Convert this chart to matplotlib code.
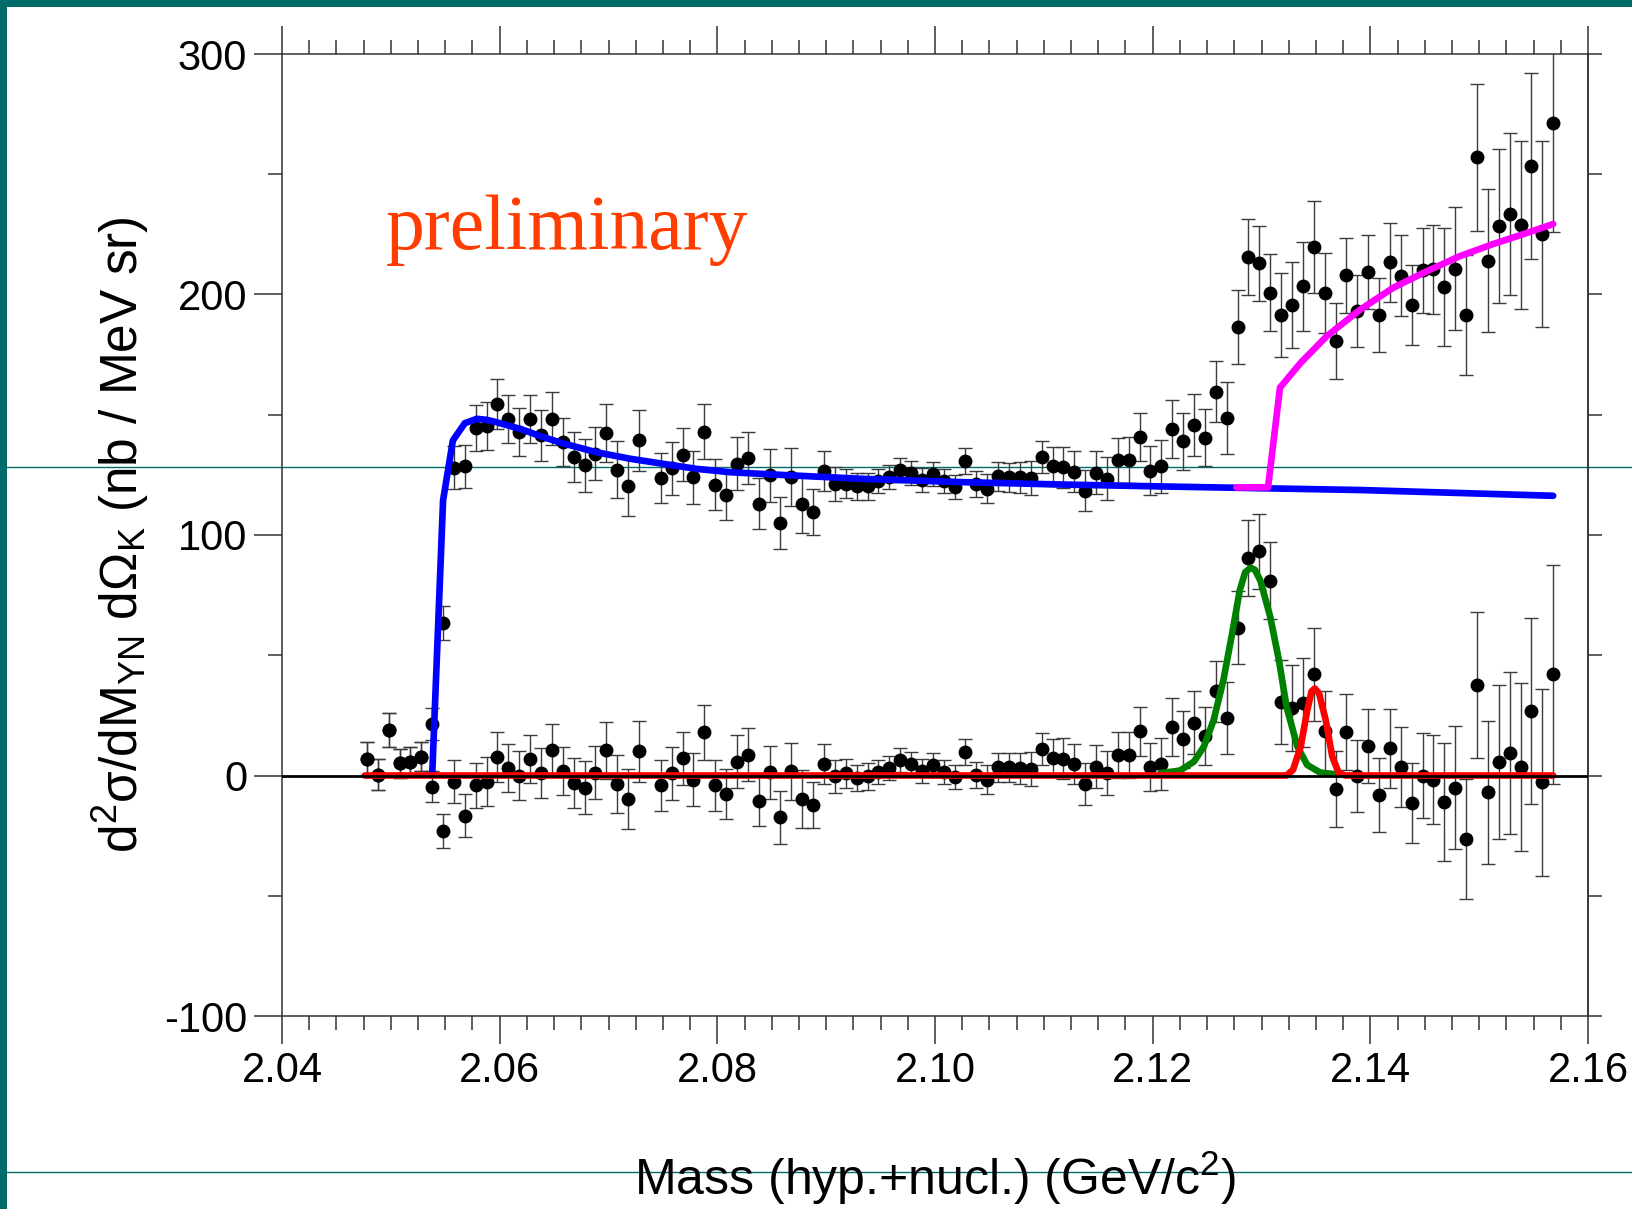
import numpy as np
import matplotlib
matplotlib.use("Agg")
import matplotlib.pyplot as plt
from matplotlib.lines import Line2D
from matplotlib.patches import Rectangle
from matplotlib.ticker import MultipleLocator, FormatStrFormatter

TEAL = "#006b68"
BG_BLUE = "#0000ff"
THR_MAGENTA = "#ff00ff"
PEAK_GREEN = "#008000"
PEAK_RED = "#ff0000"
PRELIM = "#ff3d00"

plt.rcParams['font.family'] = ['Liberation Sans', 'DejaVu Sans']
plt.rcParams['mathtext.fontset'] = 'custom'
plt.rcParams['mathtext.rm'] = 'Liberation Sans'
plt.rcParams['mathtext.it'] = 'Liberation Sans:italic'
plt.rcParams['mathtext.bf'] = 'Liberation Sans:bold'
plt.rcParams['axes.unicode_minus'] = False

# 1 MeV mass bins (bin 26 is empty)
BIN_START = 2.0478
BIN_WIDTH = 0.001
N_BINS = 110

raw_yield = [6.8, 0.3, 19, 5, 5.8, 7.9,
             21.4, 63.3, 128, 128.5, 144.4, 145.5, 154.5, 148.3, 143, 148.3,
             141.4, 148.4, 138.6, 132.4, 129, 133.7, 142.3, 127.2, 120.2, 139.3,
             np.nan, 123.7, 127.8, 133.3, 124, 143, 120.9, 116.7, 129.6, 132,
             113, 124.8, 105, 124, 112.7, 109.5, 126.8, 121.3, 121.3, 120.2,
             120.2, 122.4, 124, 127.2, 125.9, 123, 125.4, 122.4, 120, 130.7,
             121.3, 119.2, 124.5, 124, 124, 123.7, 132.4, 128.5, 128.2, 126.4,
             118.5, 125.9, 123.4, 131, 131.3, 140.7, 126.8, 128.5, 144, 138.9,
             145.8, 140.5, 159.6, 148.8, 186.4, 215.6, 212.9, 200.7, 191.6, 195.6,
             203.5, 219.8, 200.7, 180.6, 208, 193.1, 209.3, 191.4, 213.4, 207.9,
             195.6, 210, 210.4, 203, 210.8, 191.4, 257, 214.1, 228.6, 233.5,
             228.9, 253.5, 225.3, 271.4]

subtracted = [6.8, 0.3, 19, 5, 5.8, 7.9,
              -4.6, -23, -2.5, -16.7, -4.1, -2.5, 7.6, 3.2, 0, 6.9,
              1, 10.4, 1.7, -3.2, -5, 1.2, 10.4, -3.6, -9.8, 10,
              np.nan, -4.1, 1, 7.2, -1.8, 18, -4.1, -7.6, 5.8, 8.6,
              -10.4, 1.4, -17.4, 1.7, -9.7, -12.4, 4.7, -0.4, 1, -1.1,
              -0.4, 1.4, 3, 6.5, 4.8, 2, 4.4, 1.4, -0.7, 9.7,
              0.3, -1.8, 3.5, 3.5, 3, 2.6, 11, 7.2, 6.9, 4.8,
              -3.5, 3.7, 1, 8.6, 8.6, 18.3, 3.7, 4.8, 20.3, 15,
              22, 16.5, 35.1, 24, 61.5, 90.5, 93.2, 80.9, 30.7, 28.2,
              30.3, 42, 18.5, -5.7, 18, -0.1, 12.4, -8, 11.3, 3.5,
              -11.5, 0, -1.8, -11.1, -5, -26.4, 37.6, -7, 5.8, 9.3,
              3.5, 26.8, -2.9, 42]

stat_err = [7, 6.5, 7, 6, 6, 6,
            6.5, 7, 9, 9, 9.5, 10, 10.4, 10, 10, 10,
            10.5, 11, 10, 10.5, 11, 11, 12, 12, 12.3, 12.5,
            np.nan, 10.5, 11, 11, 11, 11.5, 10.5, 10.5, 11, 11,
            10.5, 11, 11, 12, 12, 9.5, 8.3, 7, 6, 5.5,
            5.5, 5, 5, 5, 5, 5, 5, 5, 5, 5.3,
            5.5, 6, 6, 6, 6.5, 7, 6.6, 8, 8.5, 8.5,
            8.6, 9, 9, 9.5, 9.5, 10, 10, 11, 12, 12,
            13, 12, 12.7, 15, 15.3, 15.8, 15.6, 16, 17.4, 17.9,
            18.5, 19.2, 16.6, 15.7, 15.7, 15, 15.4, 15.3, 16.5, 16.7,
            16.6, 17.8, 18.5, 24.5, 25.6, 25, 30.5, 29.7, 32, 33.7,
            34.9, 38.7, 38.7, 45.6]

# background fit (blue)
bg_mass = [2.0538, 2.0548, 2.0557, 2.0568, 2.0579, 2.0588, 2.0597, 2.0619, 2.0640,
           2.0659, 2.0689, 2.0720, 2.0750, 2.0781, 2.0812, 2.0858, 2.0931, 2.1023,
           2.1115, 2.1207, 2.1391, 2.1568]
bg_fit = [0, 114.4, 139.3, 146.5, 148.3, 147.9, 146.9, 144.1, 140.7,
          138.0, 134.4, 131.7, 129.6, 127.5, 126.1, 125.0, 123.4, 122.0,
          121.0, 120.2, 118.7, 116.3]

# background + threshold (magenta)
thr_mass = [2.1277, 2.1306, 2.1317, 2.1336, 2.1360, 2.1391, 2.1421, 2.1452,
            2.1482, 2.1513, 2.1544, 2.1568]
thr_fit = [119.8, 119.8, 161.3, 171.6, 182.7, 193.8, 202.8, 209.7,
           215.9, 221.0, 225.6, 229.3]

# first peak (green)
peak1_mass = [2.1207, 2.1225, 2.1238, 2.1247, 2.1256, 2.1265, 2.1273, 2.1280, 2.1285,
              2.1290, 2.1294, 2.1299, 2.1308, 2.1316, 2.1323, 2.1333, 2.1342, 2.1354,
              2.1372]
peak1_fit = [1, 2, 5.8, 12, 23, 39.7, 59, 77, 84.5,
             86.4, 85.5, 81, 66, 48, 28.6, 12, 4.4, 1.2,
             0.3]

# second peak (red)
peak2_mass = [2.0476, 2.1323, 2.1329, 2.1336, 2.1342, 2.1346, 2.1349, 2.1353,
              2.1359, 2.1365, 2.1371, 2.1377, 2.1568]
peak2_fit = [0, 0, 2.4, 12, 27, 35, 36.2, 34,
             23, 7.9, 1, 0, 0]


def draw_slide_frame(fig):
    # teal bars and rules of the slide background
    fig.add_artist(Rectangle((0, 0), 7 / 1633, 1, transform=fig.transFigure,
                             color=TEAL, lw=0, zorder=-5))
    fig.add_artist(Rectangle((0, 1 - 7 / 1209), 1, 7 / 1209, transform=fig.transFigure,
                             color=TEAL, lw=0, zorder=-5))
    for ypix in (467, 1172):
        yf = 1 - ypix / 1209
        fig.add_artist(Line2D([0, 1], [yf, yf], transform=fig.transFigure,
                              color=TEAL, lw=1.0, zorder=-5))


def draw_spectrum(path):
    fig = plt.figure(figsize=(16.33, 12.09), dpi=100)
    draw_slide_frame(fig)
    ax = fig.add_axes([282 / 1633, 1 - 1016 / 1209, 1306 / 1633, 962 / 1209])
    ax.set_facecolor('none')

    mass = BIN_START + BIN_WIDTH * np.arange(N_BINS)
    for values in (raw_yield, subtracted):
        ax.errorbar(mass, values, yerr=stat_err, fmt='o', color='black', ms=9,
                    ecolor='#3c3c3c', elinewidth=1.0, capsize=5, capthick=1.0, zorder=2)

    line_kw = dict(lw=4.8, solid_capstyle='round', solid_joinstyle='round')
    ax.plot(bg_mass, bg_fit, color=BG_BLUE, zorder=3, **line_kw)
    ax.plot(thr_mass, thr_fit, color=THR_MAGENTA, zorder=4, **line_kw)
    ax.plot(peak1_mass, peak1_fit, color=PEAK_GREEN, zorder=4, **line_kw)
    ax.plot(peak2_mass, peak2_fit, color=PEAK_RED, zorder=5, **line_kw)
    ax.axhline(0, color='black', lw=2.0, zorder=6)

    ax.set_xlim(2.04, 2.16)
    ax.set_ylim(-100, 300)
    ax.xaxis.set_major_locator(MultipleLocator(0.02))
    ax.xaxis.set_minor_locator(MultipleLocator(0.0025))
    ax.xaxis.set_major_formatter(FormatStrFormatter('%.2f'))
    ax.yaxis.set_major_locator(MultipleLocator(100))
    ax.yaxis.set_minor_locator(MultipleLocator(50))
    ax.tick_params(which='major', direction='out', length=20, width=1.1, color='#333333',
                   top=True, right=False, labelsize=30, pad=5)
    ax.tick_params(which='minor', direction='out', length=10, width=1.1, color='#333333',
                   top=True, right=False)
    for side in ax.spines.values():
        side.set_color('#333333')
        side.set_linewidth(1.1)

    right = ax.secondary_yaxis('right')
    right.set_yticks(np.arange(-100, 301, 50))
    right.tick_params(direction='out', length=10, width=1.1, color='#333333', labelright=False)
    right.spines['right'].set_color('#333333')
    right.spines['right'].set_linewidth(1.1)

    ax.set_ylabel(r'$\mathregular{d^{2}\sigma/dM_{YN}\ d\Omega_{K}}$ (nb / MeV sr)', fontsize=37)
    ax.yaxis.set_label_coords(-0.1, 0.5)
    ax.set_xlabel(r'Mass (hyp.+nucl.) (GeV/c$\mathregular{^{2}}$)', fontsize=36)
    ax.xaxis.set_label_coords(0.5, -0.138)

    ax.text(0.0796, 0.797, 'preliminary', transform=ax.transAxes, fontsize=56,
            color=PRELIM, family='Liberation Serif', va='baseline')

    fig.savefig(path, dpi=100)


if __name__ == "__main__":
    draw_spectrum('out.png')
